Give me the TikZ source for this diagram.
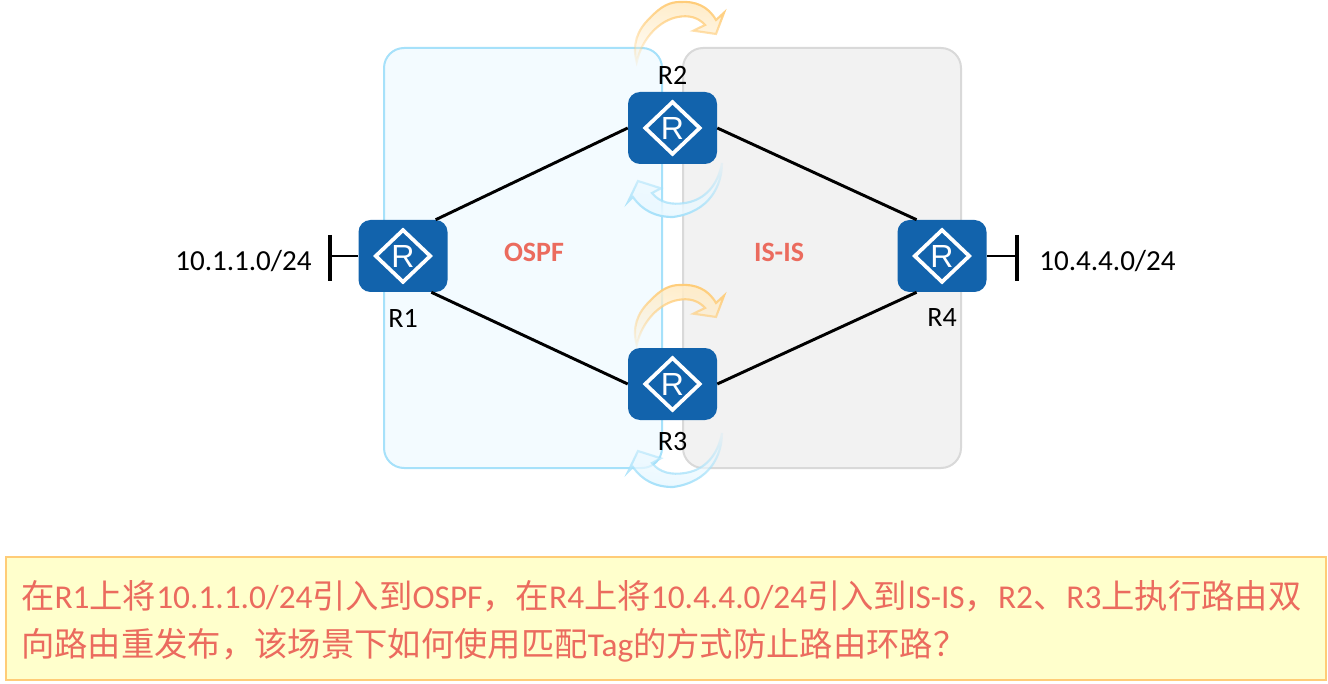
\documentclass[tikz,border=0pt]{standalone}
\usepackage{fontspec}
\setmainfont{Carlito}
\newfontfamily\cjk{Noto Sans CJK SC}
\newfontfamily\iconfont{Liberation Sans}
\usetikzlibrary{shapes.geometric,fadings}
\definecolor{routerblue}{HTML}{1263AC}
\definecolor{redtext}{HTML}{EB6B5E}
\definecolor{ospfline}{HTML}{A6E1FA}
\definecolor{ospffill}{HTML}{F3FBFF}
\definecolor{isisline}{HTML}{D9D9D9}
\definecolor{isisfill}{HTML}{F2F2F2}
\definecolor{noteline}{HTML}{FFCC77}
\definecolor{notefill}{HTML}{FFFFCC}
\definecolor{orangefill}{HTML}{FFECC8}
\definecolor{orangeline}{HTML}{FFCC77}
\definecolor{bluefill}{HTML}{EAF8FF}
\tikzfading[name=arrowfade,bottom color=transparent!85,middle color=transparent!0,top color=transparent!0]
\newcommand{\zh}[1]{{\cjk #1}}
\tikzset{
  x=0.75pt,y=-0.75pt,
  area/.style={draw=#1,line width=1.5pt,rounded corners=15pt,inner sep=0pt,anchor=north west},
  routerbox/.style={fill=routerblue,rounded corners=9pt,minimum width=66.75pt,minimum height=54pt,inner sep=0pt},
  routermark/.style={diamond,draw=white,line width=2.8pt,minimum width=42pt,minimum height=40pt,inner sep=0pt,text=white,font=\iconfont\fontsize{24}{24}\selectfont},
  link/.style={black,line width=2.2pt},
  bar/.style={black,line width=2.4pt},
  lbl/.style={text=black,font=\fontsize{21}{24}\selectfont,inner sep=0pt},
  nettext/.style={text=black,font=\fontsize{21.8}{24}\selectfont,inner sep=0pt},
  proto/.style={text=redtext,font=\bfseries\fontsize{21}{24}\selectfont,inner sep=0pt},
  orange arrow/.pic={
    \path[draw=orangeline,fill=orangefill,line width=1.6pt,line join=miter,path fading=arrowfade,fading angle=-10]
      (636.7,62) .. controls (632,45) and (637,30) .. (650,18)
      .. controls (661,6) and (670,2) .. (680,2)
      .. controls (695,1) and (708,6) .. (716,20)
      -- (724,12.7) -- (716,34) -- (693.3,30.7) -- (705,25)
      .. controls (698,17) and (688,15) .. (678,17)
      .. controls (660,20) and (642,38) .. (636.7,62) -- cycle;
  },
  blue arrow/.pic={
    \path[draw=ospfline,fill=bluefill,line width=1.6pt,line join=miter,path fading=arrowfade,fading angle=170]
      (722,163) .. controls (722,185) and (710,212) .. (673,217)
      .. controls (655,217) and (642,210) .. (633,197)
      -- (628,202) -- (638,181) -- (661,188.3) -- (652,193)
      .. controls (660,203) and (672,205) .. (685,203)
      .. controls (705,200) and (718,185) .. (722,163) -- cycle;
  },
}
\newcommand{\router}[3]{%
  \node[routerbox] (#1) at (#2,#3) {};
  \node[routermark] (#1m) at (#2,#3) {R};
}
\begin{document}
\begin{tikzpicture}
\useasboundingbox (0,0) rectangle (1328,684);
\node[area=ospfline,fill=ospffill,minimum width=208.5pt,minimum height=315pt] (ospf) at (383,47) {};
\node[area=isisline,fill=isisfill,minimum width=208.5pt,minimum height=315pt] (isis) at (682,47) {};
\pic at (0,0) {orange arrow};
\pic at (0,283) {orange arrow};
\pic at (0,0) {blue arrow};
\pic at (0,270) {blue arrow};
\router{r1}{403}{256}
\router{r2}{672.5}{128}
\router{r3}{672.5}{384}
\router{r4}{942}{256}
\draw[link] (r1.48) -- (r2.west);
\draw[link] (r1.-52) -- (r3.west);
\draw[link] (r2.east) -- (r4.125);
\draw[link] (r3.east) -- (r4.-125);
\coordinate (t1) at (330,256);
\coordinate (t4) at (1017,256);
\coordinate (t1a) at (330,235);\coordinate (t1b) at (330,281);
\coordinate (t4a) at (1017,235);\coordinate (t4b) at (1017,281);
\draw[link] (r1.west) -- (t1);
\draw[link] (r4.east) -- (t4);
\draw[bar] (t1a) -- (t1b);
\draw[bar] (t4a) -- (t4b);
\node[lbl] (l2) at (672.5,75) {R2};
\node[lbl] (l1) at (403,318) {R1};
\node[lbl] (l3) at (672.5,442) {R3};
\node[lbl] (l4) at (942,318) {R4};
\node[nettext] (n1) at (243.5,261) {10.1.1.0/24};
\node[nettext] (n4) at (1107.5,261) {10.4.4.0/24};
\node[proto] (po) at (534,252) {OSPF};
\node[proto] (pi) at (779,252) {IS-IS};
\node[draw=noteline,fill=notefill,line width=1.5pt,anchor=north west,minimum width=990pt,minimum height=92pt,inner sep=0pt] (note) at (5,556) {};
\node[anchor=west,inner sep=0pt,text=redtext,align=left,font=\fontsize{25}{36}\selectfont] (qt) at (21,621) {\zh{在}R1\zh{上将}10.1.1.0/24\zh{引入到}OSPF\zh{，在}R4\zh{上将}10.4.4.0/24\zh{引入到}IS-IS\zh{，}R2\zh{、}R3\zh{上执行路由双}\\\zh{向路由重发布，该场景下如何使用匹配}Tag\zh{的方式防止路由环路？}};
\end{tikzpicture}
\end{document}
